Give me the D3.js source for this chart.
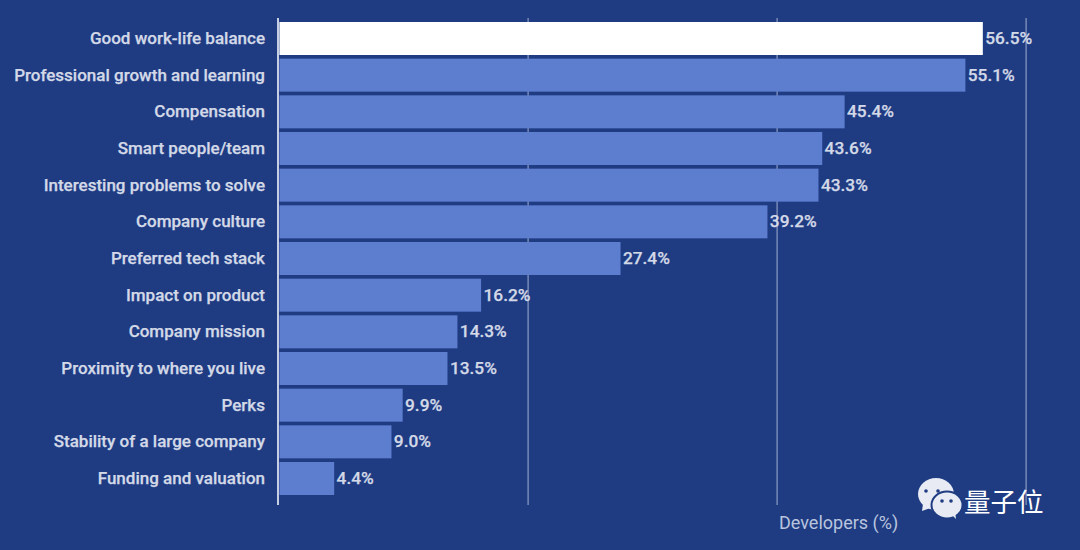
<!DOCTYPE html>
<html><head><meta charset="utf-8">
<script src="https://cdn.jsdelivr.net/npm/d3@7/dist/d3.min.js"></script>
<style>html,body{margin:0;padding:0;background:#1f3c83;overflow:hidden}svg{display:block}</style>
</head><body><svg id="c" width="1080" height="550"></svg>
<script>
const categories=["Good work-life balance","Professional growth and learning","Compensation","Smart people/team","Interesting problems to solve","Company culture","Preferred tech stack","Impact on product","Company mission","Proximity to where you live","Perks","Stability of a large company","Funding and valuation"];
const values=[56.5,55.1,45.4,43.6,43.3,39.2,27.4,16.2,14.3,13.5,9.9,9.0,4.4];
const gridTicks=[20,40,60];
const axisTitle="Developers (%)";
const brand="量子位";
const svg=d3.select("#c");
const font="Roboto, sans-serif";
const x=d3.scaleLinear().domain([0,60]).range([279.4,1026.4]);
const y=d3.scaleBand().domain(categories).range([22,495]).paddingInner(0.1);
svg.append("rect").attr("width",1080).attr("height",550).attr("fill","#1f3c83");
svg.append("g").selectAll("line").data(gridTicks).join("line")
 .attr("x1",d=>x(d)-.3).attr("x2",d=>x(d)-.3).attr("y1",18).attr("y2",505)
 .attr("stroke","#8c9cc4").attr("stroke-width",1.2);
svg.append("g").selectAll("rect").data(categories).join("rect")
 .attr("x",x(0)).attr("y",d=>y(d)).attr("height",y.bandwidth())
 .attr("width",(d,i)=>x(values[i])-x(0))
 .attr("fill",(d,i)=>i===0?"#ffffff":"#5d7dcf");
svg.append("line").attr("x1",278).attr("x2",278).attr("y1",18).attr("y2",505).attr("stroke","#c5cee3").attr("stroke-width",2);
const labelStyle=s=>s.attr("font-family",font).attr("font-weight",500).attr("font-size",17).attr("fill","#d3d9e7").attr("stroke","#d3d9e7").attr("stroke-width",0.25);
svg.append("g").selectAll("text").data(categories).join("text")
 .attr("x",265).attr("y",d=>y(d)+y.bandwidth()/2+5.4).attr("text-anchor","end")
 .call(labelStyle).text(d=>d);
svg.append("g").selectAll("text").data(categories).join("text")
 .attr("x",(d,i)=>x(values[i])+2.4).attr("y",d=>y(d)+y.bandwidth()/2+5.4)
 .call(labelStyle).attr("font-size",17.3).text((d,i)=>values[i].toFixed(1)+"%");
svg.append("text").attr("x",779).attr("y",529).attr("font-family",font).attr("font-size",18).attr("fill","#b9c4de").text(axisTitle);
// WeChat-style logo
const logo=svg.append("g").attr("fill","#e8ebf3");
logo.append("ellipse").attr("cx",936).attr("cy",494).attr("rx",18).attr("ry",16);
logo.append("path").attr("d","M923 504L922 511L933 507Z");
logo.append("ellipse").attr("cx",947).attr("cy",505).attr("rx",15.5).attr("ry",13.5).attr("stroke","#1f3c83").attr("stroke-width",2);
logo.append("path").attr("d","M952 515L956 519L955 511Z");
[[926,491],[938,491],[942,501],[951,501]].forEach(p=>svg.append("circle").attr("cx",p[0]).attr("cy",p[1]).attr("r",1.8).attr("fill","#1f3c83"));
svg.append("text").attr("x",964).attr("y",512).attr("font-family","'Noto Sans CJK SC'").attr("font-size",26.5).attr("fill","#fff").text(brand);
</script></body></html>
